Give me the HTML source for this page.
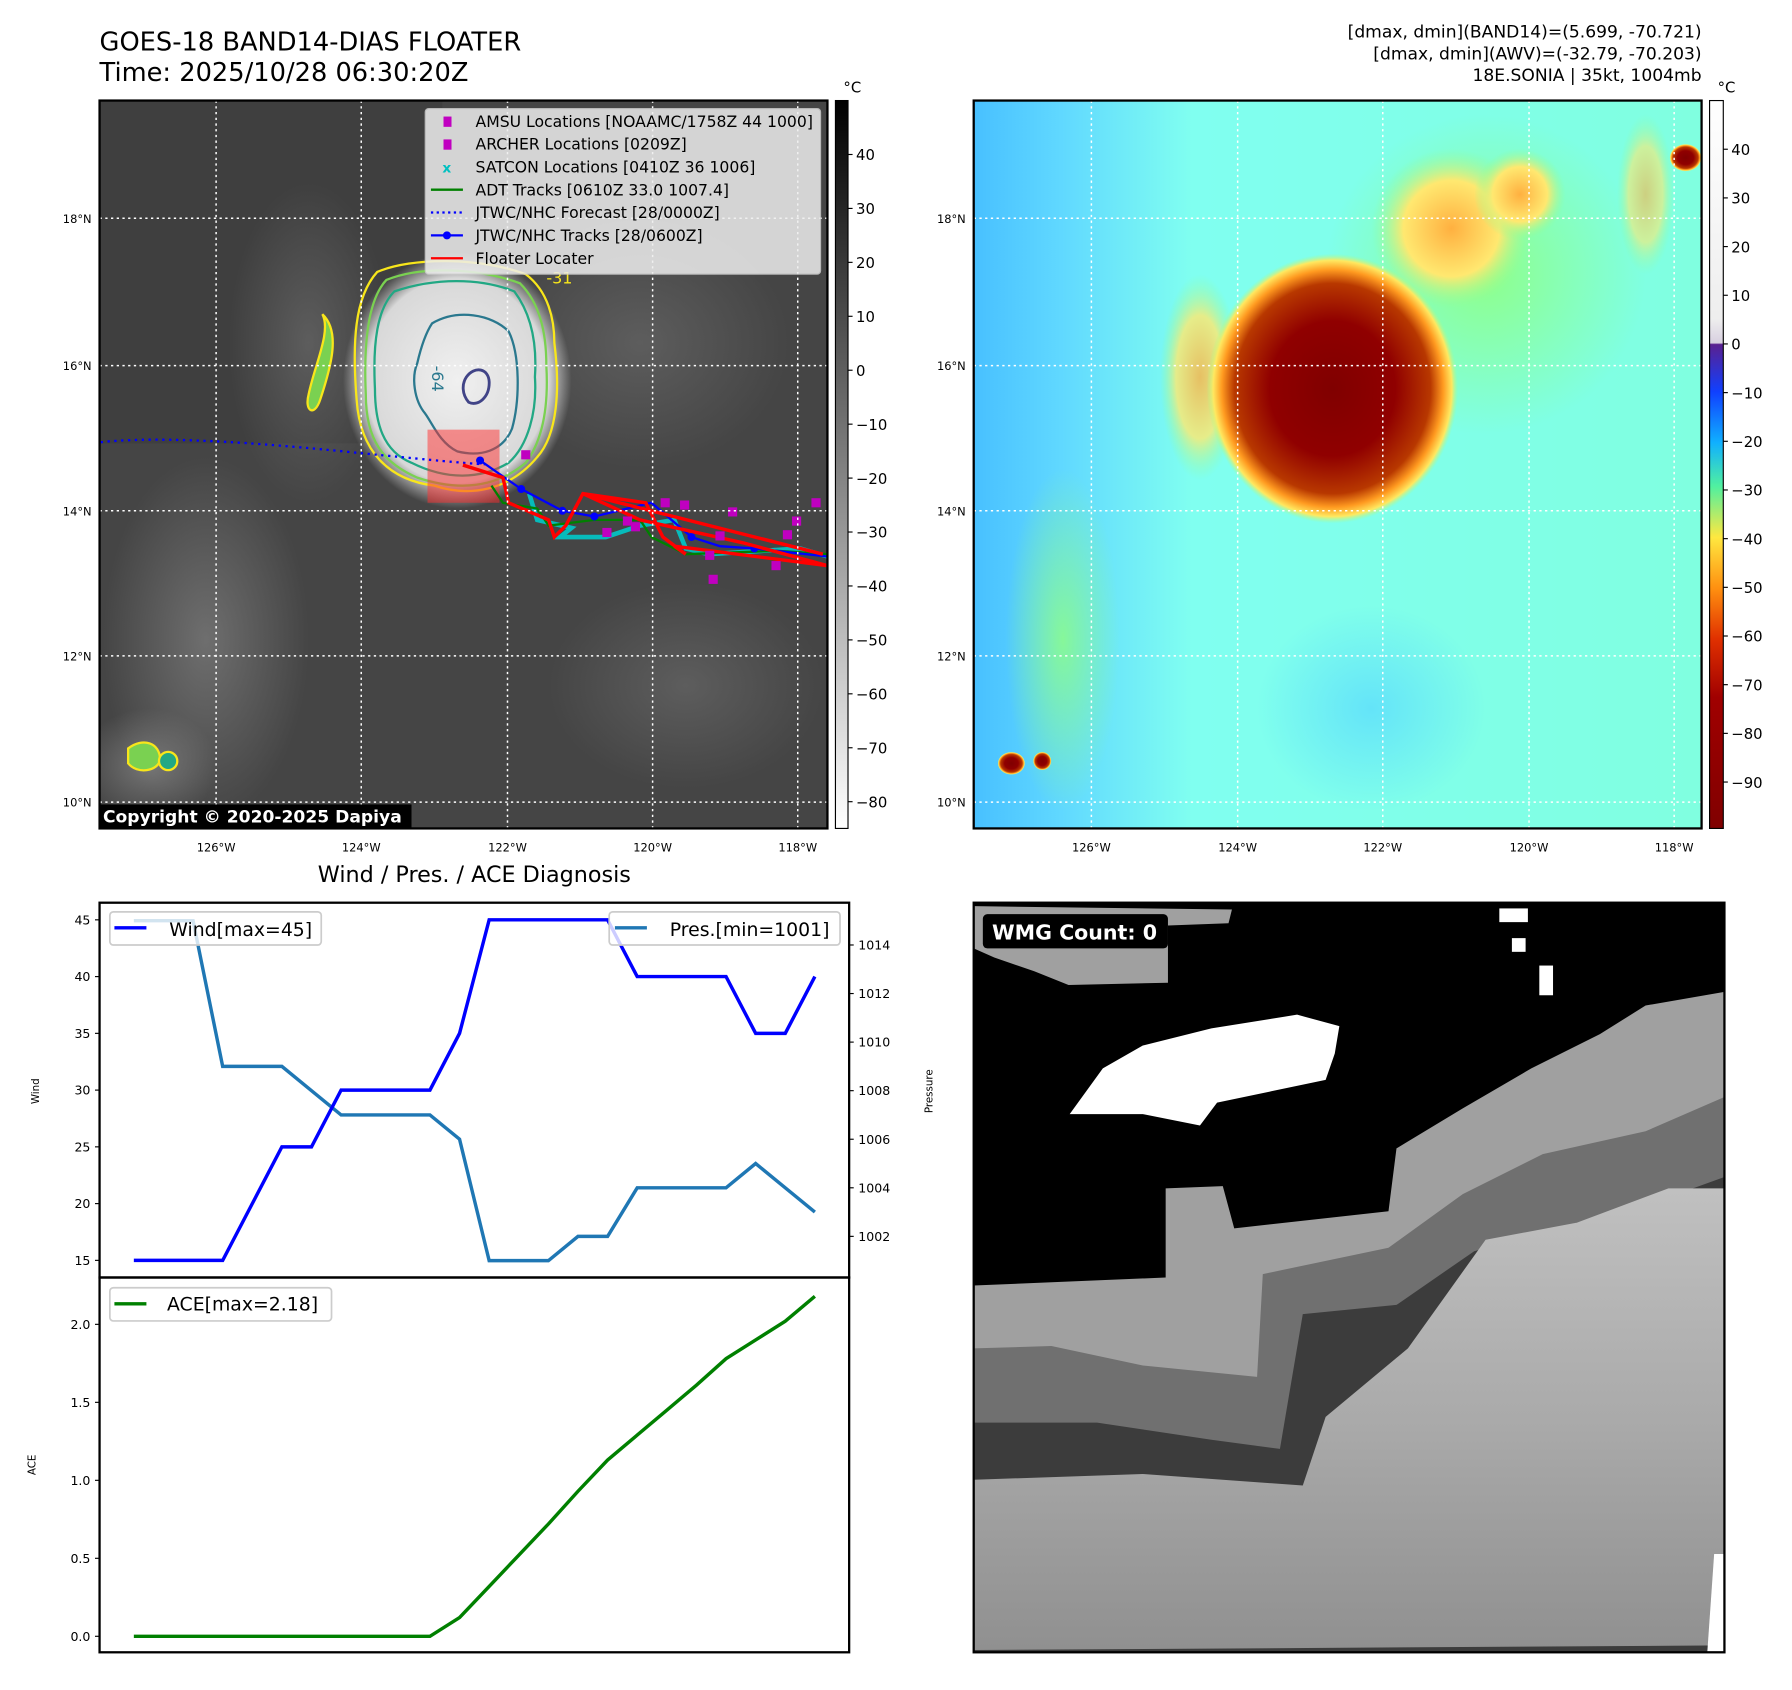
<!DOCTYPE html>
<html><head><meta charset="utf-8">
<style>
html,body{margin:0;padding:0;background:#fff;width:1792px;height:1690px;overflow:hidden}
svg{display:block;font-family:"DejaVu Sans","Liberation Sans",sans-serif}
</style></head>
<body>
<svg id="root" width="1792" height="1690" viewBox="0 0 1568 1479" xmlns="http://www.w3.org/2000/svg">
<defs>
<linearGradient id="cb1" x1="0" y1="0" x2="0" y2="1"><stop offset="0" stop-color="#000"/><stop offset="1" stop-color="#fff"/></linearGradient>
<linearGradient id="cb2" x1="0" y1="0" x2="0" y2="1">
<stop offset="0" stop-color="#ffffff"/><stop offset="0.3" stop-color="#eeeeee"/><stop offset="0.333" stop-color="#d8d0e0"/>
<stop offset="0.335" stop-color="#5a2090"/><stop offset="0.4" stop-color="#1040ff"/><stop offset="0.47" stop-color="#10b0ff"/>
<stop offset="0.53" stop-color="#50f0a0"/><stop offset="0.6" stop-color="#ffe840"/><stop offset="0.67" stop-color="#ff9010"/>
<stop offset="0.74" stop-color="#e03000"/><stop offset="0.82" stop-color="#a00000"/><stop offset="1" stop-color="#800000"/></linearGradient>
<radialGradient id="storm1" cx="0.5" cy="0.5" r="0.5"><stop offset="0" stop-color="#f0f0f0"/><stop offset="0.8" stop-color="#d8d8d8"/><stop offset="1" stop-color="#c8c8c8" stop-opacity="0"/></radialGradient>
<radialGradient id="cloud" cx="0.5" cy="0.5" r="0.5"><stop offset="0" stop-color="#8a8a8a"/><stop offset="1" stop-color="#8a8a8a" stop-opacity="0"/></radialGradient>
<radialGradient id="storm2" cx="0.5" cy="0.5" r="0.5"><stop offset="0" stop-color="#800000"/><stop offset="0.5" stop-color="#900000"/><stop offset="0.78" stop-color="#b83800"/><stop offset="0.88" stop-color="#ff9a20"/><stop offset="0.95" stop-color="#ffe860"/><stop offset="1" stop-color="#a0ff90" stop-opacity="0"/></radialGradient>
<radialGradient id="warm2" cx="0.5" cy="0.5" r="0.5"><stop offset="0" stop-color="#ffb040"/><stop offset="0.6" stop-color="#ffe870"/><stop offset="1" stop-color="#90ff90" stop-opacity="0"/></radialGradient>
<radialGradient id="green2" cx="0.5" cy="0.5" r="0.5"><stop offset="0" stop-color="#90ff80"/><stop offset="1" stop-color="#90ff80" stop-opacity="0"/></radialGradient>
<radialGradient id="blue2" cx="0.5" cy="0.5" r="0.5"><stop offset="0" stop-color="#58d8ff"/><stop offset="1" stop-color="#58d8ff" stop-opacity="0"/></radialGradient>
<linearGradient id="bg2" x1="0" y1="0" x2="1" y2="0"><stop offset="0" stop-color="#48c0ff"/><stop offset="0.12" stop-color="#60d8ff"/><stop offset="0.3" stop-color="#80fff0"/><stop offset="1" stop-color="#80ffe0"/></linearGradient>
<linearGradient id="wmgl" x1="0" y1="0" x2="0" y2="1"><stop offset="0" stop-color="#c0c0c0"/><stop offset="0.5" stop-color="#aaaaaa"/><stop offset="1" stop-color="#909090"/></linearGradient>
<clipPath id="c1"><rect x="87" y="88" width="637" height="637"/></clipPath>
<clipPath id="c2"><rect x="852" y="88" width="637" height="637"/></clipPath>
</defs>

<!-- Titles -->
<text x="87" y="44" font-size="22.5">GOES-18 BAND14-DIAS FLOATER</text>
<text x="87" y="71" font-size="22.5">Time: 2025/10/28 06:30:20Z</text>
<g font-size="15" text-anchor="end">
<text x="1489" y="33">[dmax, dmin](BAND14)=(5.699, -70.721)</text>
<text x="1489" y="52">[dmax, dmin](AWV)=(-32.79, -70.203)</text>
<text x="1489" y="71">18E.SONIA | 35kt, 1004mb</text>
</g>

<!-- MAP 1 -->
<g clip-path="url(#c1)">
<rect x="87" y="88" width="637" height="637" fill="#454545"/>
<rect x="87" y="88" width="300" height="300" fill="#3c3c3c" opacity="0.6"/>
<ellipse cx="180" cy="560" rx="90" ry="160" fill="url(#cloud)" opacity="0.6"/>
<ellipse cx="270" cy="300" rx="70" ry="140" fill="url(#cloud)" opacity="0.4"/>
<ellipse cx="600" cy="600" rx="120" ry="90" fill="url(#cloud)" opacity="0.35"/>
<ellipse cx="130" cy="670" rx="60" ry="50" fill="url(#cloud)" opacity="0.7"/>
<ellipse cx="560" cy="300" rx="130" ry="110" fill="url(#cloud)" opacity="0.35"/>
<ellipse cx="400" cy="333" rx="100" ry="112" fill="url(#storm1)"/>
<path d="M330,238 C360,225 420,225 460,240 C480,255 485,280 485,300 C490,340 488,380 470,400 C445,430 410,435 380,425 C340,420 315,395 312,350 C308,300 310,260 330,238Z" fill="none" stroke="#f8e61b" stroke-width="2"/>
<path d="M338,245 C370,232 420,235 455,248 C472,265 478,290 478,320 C480,355 475,385 460,405 C430,430 395,428 365,418 C335,405 320,385 320,345 C318,300 322,262 338,245Z" fill="none" stroke="#7ad151" stroke-width="2"/>
<path d="M345,255 C380,243 420,243 450,255 C465,275 470,300 468,330 C470,360 462,390 445,405 C420,420 390,420 360,405 C335,395 328,370 328,340 C326,300 330,270 345,255Z" fill="none" stroke="#22a884" stroke-width="2"/>
<path d="M378,283 C400,270 430,275 445,290 C455,310 455,350 448,375 C440,395 420,400 400,395 C385,388 378,370 372,362 C362,350 360,330 365,318 C368,305 372,292 378,283Z" fill="none" stroke="#2a788e" stroke-width="2"/>
<path d="M408,330 C415,320 428,322 428,335 C428,348 418,356 410,352 C404,345 404,336 408,330Z" fill="none" stroke="#414487" stroke-width="2.5"/>
<text x="378" y="320" font-size="14" fill="#2a788e" transform="rotate(90 378 320)">-64</text>
<text x="478" y="248" font-size="14" fill="#f8e61b">-31</text>
<path d="M282,275 C290,290 275,320 270,345 C266,360 275,365 280,350 C290,320 298,290 282,275Z" fill="#7ad151" stroke="#f8e61b" stroke-width="2"/>
<path d="M112,655 C125,645 140,650 140,665 C138,675 120,678 112,668Z" fill="#7ad151" stroke="#f8e61b" stroke-width="2"/>
<ellipse cx="147" cy="666" rx="8" ry="8" fill="#22a884" stroke="#f8e61b" stroke-width="2"/>
<rect x="374" y="376" width="63" height="64" fill="#ff3030" opacity="0.5"/>
<path d="M88,387 Q150,380 300,395 T420,405" fill="none" stroke="#0000ff" stroke-width="2" stroke-dasharray="2,4"/>
<polyline points="463,432 470,455 500,462 490,470 530,470 560,460 590,455 600,480 620,485 700,480 724,487" fill="none" stroke="#00c8c8" stroke-width="4" opacity="0.9"/>
<polyline points="430,425 440,440 470,445 480,460 520,455 560,455 570,470 600,485 680,482 724,485" fill="none" stroke="#008000" stroke-width="2"/>
<polyline points="420,403 456,428 492,447 520,452 570,440 605,470 630,478 660,480 724,487" fill="none" stroke="#0000ff" stroke-width="2"/>
<g fill="#0000ff"><circle cx="420" cy="403" r="3.5"/><circle cx="456" cy="428" r="3.5"/><circle cx="492" cy="447" r="3.5"/><circle cx="520" cy="452" r="3.5"/><circle cx="605" cy="470" r="3.5"/><circle cx="660" cy="480" r="3.5"/></g>
<polyline points="405,407 440,418 445,440 480,455 485,470 495,460 510,432 565,440 580,470 600,485 590,478 724,495 650,475 560,455 510,432 720,485" fill="none" stroke="#ff0000" stroke-width="3"/>
<g fill="#c000c0"><rect x="456" y="394" width="8" height="8"/><rect x="527" y="462" width="8" height="8"/><rect x="545" y="452" width="8" height="8"/><rect x="552" y="457" width="8" height="8"/><rect x="595" y="438" width="8" height="8"/><rect x="617" y="482" width="8" height="8"/><rect x="626" y="465" width="8" height="8"/><rect x="637" y="444" width="8" height="8"/><rect x="620" y="503" width="8" height="8"/><rect x="675" y="491" width="8" height="8"/><rect x="685" y="464" width="8" height="8"/><rect x="693" y="452" width="8" height="8"/><rect x="710" y="436" width="8" height="8"/><rect x="578" y="436" width="8" height="8"/></g>
<g stroke="#fff" stroke-width="1.3" stroke-dasharray="2,3">
<line x1="189" y1="88" x2="189" y2="725"/><line x1="316" y1="88" x2="316" y2="725"/><line x1="444" y1="88" x2="444" y2="725"/><line x1="571" y1="88" x2="571" y2="725"/><line x1="698" y1="88" x2="698" y2="725"/>
<line x1="87" y1="191" x2="724" y2="191"/><line x1="87" y1="320" x2="724" y2="320"/><line x1="87" y1="447" x2="724" y2="447"/><line x1="87" y1="574" x2="724" y2="574"/><line x1="87" y1="702" x2="724" y2="702"/>
</g>
<rect x="87" y="704" width="273" height="21" fill="#000"/>
<text x="90" y="720" font-size="15" font-weight="bold" fill="#fff">Copyright © 2020-2025 Dapiya</text>
</g>
<rect x="87" y="88" width="637" height="637" fill="none" stroke="#000" stroke-width="2"/>
<!-- map1 legend -->
<g>
<rect x="372" y="95" width="346" height="145" rx="3" fill="#eeeeee" opacity="0.85" stroke="#ccc"/>
<g font-size="13.7">
<rect x="388" y="102" width="7" height="9" fill="#c000c0"/><text x="416" y="111">AMSU Locations [NOAAMC/1758Z 44 1000]</text>
<rect x="388" y="122" width="7" height="9" fill="#c000c0"/><text x="416" y="131">ARCHER Locations [0209Z]</text>
<text x="387" y="151" fill="#00c0c0" font-weight="bold" font-size="12">x</text><text x="416" y="151">SATCON Locations [0410Z 36 1006]</text>
<line x1="377" y1="166" x2="405" y2="166" stroke="#008000" stroke-width="2"/><text x="416" y="171">ADT Tracks [0610Z 33.0 1007.4]</text>
<line x1="377" y1="186" x2="405" y2="186" stroke="#0000ff" stroke-width="2" stroke-dasharray="2,3"/><text x="416" y="191">JTWC/NHC Forecast [28/0000Z]</text>
<line x1="377" y1="206" x2="405" y2="206" stroke="#0000ff" stroke-width="2"/><circle cx="391" cy="206" r="3.5" fill="#0000ff"/><text x="416" y="211">JTWC/NHC Tracks [28/0600Z]</text>
<line x1="377" y1="226" x2="405" y2="226" stroke="#ff0000" stroke-width="2"/><text x="416" y="231">Floater Locater</text>
</g></g>
<g font-size="10">
<g text-anchor="end"><text x="80" y="195">18°N</text><text x="80" y="324">16°N</text><text x="80" y="451">14°N</text><text x="80" y="578">12°N</text><text x="80" y="706">10°N</text></g>
<g text-anchor="middle"><text x="189" y="745">126°W</text><text x="316" y="745">124°W</text><text x="444" y="745">122°W</text><text x="571" y="745">120°W</text><text x="698" y="745">118°W</text></g>
</g>
<!-- colorbar1 -->
<g>
<rect x="731" y="88" width="11" height="637" fill="url(#cb1)" stroke="#000" stroke-width="1"/>
<text x="738" y="81" font-size="13">°C</text>
<g font-size="13" id="cb1ticks"></g>
</g>

<!-- MAP 2 -->
<g clip-path="url(#c2)">
<rect x="852" y="88" width="637" height="637" fill="url(#bg2)"/>
<ellipse cx="1200" cy="620" rx="100" ry="90" fill="url(#blue2)" opacity="0.7"/>
<ellipse cx="930" cy="560" rx="50" ry="150" fill="url(#green2)" opacity="0.8"/>
<ellipse cx="1300" cy="240" rx="140" ry="140" fill="url(#green2)" opacity="0.9"/>
<ellipse cx="1270" cy="200" rx="70" ry="70" fill="url(#warm2)"/>
<ellipse cx="1330" cy="170" rx="40" ry="40" fill="url(#warm2)"/>
<ellipse cx="1440" cy="170" rx="25" ry="70" fill="url(#warm2)" opacity="0.6"/>
<ellipse cx="1050" cy="330" rx="35" ry="90" fill="url(#warm2)" opacity="0.8"/>
<ellipse cx="1166" cy="340" rx="110" ry="118" fill="url(#storm2)"/>
<ellipse cx="1475" cy="138" rx="14" ry="12" fill="url(#storm2)"/>
<ellipse cx="885" cy="668" rx="12" ry="10" fill="url(#storm2)"/>
<ellipse cx="912" cy="666" rx="8" ry="8" fill="url(#storm2)"/>
<g stroke="#fff" stroke-width="1.3" stroke-dasharray="2,3">
<line x1="955" y1="88" x2="955" y2="725"/><line x1="1083" y1="88" x2="1083" y2="725"/><line x1="1210" y1="88" x2="1210" y2="725"/><line x1="1338" y1="88" x2="1338" y2="725"/><line x1="1465" y1="88" x2="1465" y2="725"/>
<line x1="852" y1="191" x2="1489" y2="191"/><line x1="852" y1="320" x2="1489" y2="320"/><line x1="852" y1="447" x2="1489" y2="447"/><line x1="852" y1="574" x2="1489" y2="574"/><line x1="852" y1="702" x2="1489" y2="702"/>
</g></g>
<rect x="852" y="88" width="637" height="637" fill="none" stroke="#000" stroke-width="2"/>
<g font-size="10">
<g text-anchor="end"><text x="845" y="195">18°N</text><text x="845" y="324">16°N</text><text x="845" y="451">14°N</text><text x="845" y="578">12°N</text><text x="845" y="706">10°N</text></g>
<g text-anchor="middle"><text x="955" y="745">126°W</text><text x="1083" y="745">124°W</text><text x="1210" y="745">122°W</text><text x="1338" y="745">120°W</text><text x="1465" y="745">118°W</text></g>
</g>
<g>
<rect x="1496" y="88" width="12" height="637" fill="url(#cb2)" stroke="#000" stroke-width="1"/>
<text x="1503" y="81" font-size="13">°C</text>
<g font-size="13" id="cb2ticks"></g>
</g>

<!-- WMG panel -->
<g>
<rect x="852" y="790" width="657" height="656" fill="#000"/>
<polygon points="852,793 1078,796 1075,808 1022,810 1022,860 935,862 905,850 870,838 852,830" fill="#a0a0a0"/>
<polygon points="936,975 965,935 1000,915 1060,900 1135,888 1172,898 1168,922 1160,945 1065,965 1050,985 1000,975" fill="#fff"/>
<rect x="1312" y="795" width="25" height="12" fill="#fff"/><rect x="1323" y="821" width="12" height="12" fill="#fff"/><rect x="1347" y="845" width="12" height="26" fill="#fff"/>
<polygon points="852,1125 1020,1118 1020,1040 1070,1038 1080,1075 1215,1060 1222,1005 1280,970 1340,935 1400,905 1440,880 1509,868 1509,1446 852,1446" fill="#a0a0a0"/>
<polygon points="852,1180 920,1178 1000,1195 1100,1205 1105,1115 1215,1092 1280,1045 1350,1010 1440,990 1509,960 1509,1446 852,1446" fill="#707070"/>
<polygon points="852,1245 960,1245 1060,1260 1120,1268 1140,1150 1222,1142 1290,1095 1360,1075 1440,1055 1509,1030 1509,1446 852,1446" fill="#3c3c3c"/>
<polygon points="852,1295 1000,1290 1140,1300 1160,1240 1232,1180 1300,1085 1380,1070 1460,1040 1509,1040 1509,1440 852,1444" fill="url(#wmgl)"/>
<polygon points="1500,1360 1509,1360 1509,1446 1494,1446" fill="#fff"/>
<rect x="852" y="790" width="657" height="656" fill="none" stroke="#000" stroke-width="2"/>
<rect x="860" y="800" width="162" height="30" rx="4" fill="#000"/>
<text x="868" y="822" font-size="18" font-weight="bold" fill="#fff">WMG Count: 0</text>
</g>

<!-- Charts -->
<text x="415" y="772" font-size="19.5" text-anchor="middle">Wind / Pres. / ACE Diagnosis</text>
<g id="windchart"></g>
<g id="acechart"></g>
</svg>
<script>
const windValues=[15,15,15,15,20,25,25,30,30,30,30,35,45,45,45,45,45,40,40,40,40,35,35,40];
const presValues=[1015,1015,1015,1009,1009,1009,1008,1007,1007,1007,1007,1006,1001,1001,1001,1002,1002,1004,1004,1004,1004,1005,1004,1003];
const aceValues=[0,0,0,0,0,0,0,0,0,0,0,0.12,0.32,0.52,0.72,0.93,1.13,1.29,1.45,1.61,1.78,1.9,2.02,2.18];
const windTicks=[15,20,25,30,35,40,45];
const presTicks=[1002,1004,1006,1008,1010,1012,1014];
const aceTicks=[0.0,0.5,1.0,1.5,2.0];
const cb1Ticks=[40,30,20,10,0,-10,-20,-30,-40,-50,-60,-70,-80];
const cb2Ticks=[40,30,20,10,0,-10,-20,-30,-40,-50,-60,-70,-80,-90];
const NS='http://www.w3.org/2000/svg';
function mk(tag,attrs,parent){const e=document.createElementNS(NS,tag);for(const k in attrs)e.setAttribute(k,attrs[k]);parent.appendChild(e);return e;}
const X0=117,X1=713,L=87,R=743;
const xS=i=>X0+i*(X1-X0)/(windValues.length-1);
const yW=v=>805+(45-v)*(1103-805)/30;
const yP=v=>827+(1014-v)*21.25;
const yA=v=>1432-v*136.5;
const g1=document.getElementById('cb1ticks');
cb1Ticks.forEach(t=>{const y=324-t*4.72;mk('line',{x1:742,x2:746,y1:y,y2:y,stroke:'#000'},g1);const tx=mk('text',{x:749,y:y+5},g1);tx.textContent=(t<0?'\u2212'+(-t):t);});
const g2=document.getElementById('cb2ticks');
cb2Ticks.forEach(t=>{const y=301-t*4.26;mk('line',{x1:1508,x2:1512,y1:y,y2:y,stroke:'#000'},g2);const tx=mk('text',{x:1515,y:y+5},g2);tx.textContent=(t<0?'\u2212'+(-t):t);});
const wc=document.getElementById('windchart');
mk('rect',{x:L,y:790,width:R-L,height:328,fill:'#fff',stroke:'none'},wc);
windTicks.forEach(t=>{const y=yW(t);mk('line',{x1:L-4,x2:L,y1:y,y2:y,stroke:'#000'},wc);const tx=mk('text',{x:L-8,y:y+4,'font-size':11,'text-anchor':'end'},wc);tx.textContent=t;});
presTicks.forEach(t=>{const y=yP(t);mk('line',{x1:R,x2:R+4,y1:y,y2:y,stroke:'#000'},wc);const tx=mk('text',{x:R+8,y:y+4,'font-size':11},wc);tx.textContent=t;});
const pp=mk('polyline',{points:presValues.map((v,i)=>xS(i)+','+yP(v)).join(' '),fill:'none',stroke:'#1f77b4','stroke-width':3},wc);


const wp=mk('polyline',{points:windValues.map((v,i)=>xS(i)+','+yW(v)).join(' '),fill:'none',stroke:'#0000ff','stroke-width':3},wc);


mk('rect',{x:L,y:790,width:R-L,height:328,fill:'none',stroke:'#000','stroke-width':2},wc);
const wl=mk('g',{},wc);


mk('rect',{x:96,y:798,width:185,height:29,rx:3,fill:'#fff','fill-opacity':0.8,stroke:'#ccc','stroke-width':1.5},wl);
mk('line',{x1:100,x2:128,y1:812,y2:812,stroke:'#0000ff','stroke-width':3},wl);
mk('text',{x:148,y:819,'font-size':16.5},wl).textContent='Wind[max=45]';
const pl=mk('g',{},wc);


mk('rect',{x:533,y:798,width:202,height:29,rx:3,fill:'#fff','fill-opacity':0.8,stroke:'#ccc','stroke-width':1.5},pl);
mk('line',{x1:538,x2:566,y1:812,y2:812,stroke:'#1f77b4','stroke-width':3},pl);
mk('text',{x:586,y:819,'font-size':16.5},pl).textContent='Pres.[min=1001]';
const wy=mk('text',{x:34,y:955,'font-size':9,'text-anchor':'middle',transform:'rotate(-90 34 955)'},wc);wy.textContent='Wind';


const py=mk('text',{x:816,y:955,'font-size':9,'text-anchor':'middle',transform:'rotate(-90 816 955)'},wc);py.textContent='Pressure';


const ac=document.getElementById('acechart');
aceTicks.forEach(t=>{const y=yA(t);mk('line',{x1:L-4,x2:L,y1:y,y2:y,stroke:'#000'},ac);const tx=mk('text',{x:L-8,y:y+4,'font-size':11,'text-anchor':'end'},ac);tx.textContent=t.toFixed(1);});
const ap=mk('polyline',{points:aceValues.map((v,i)=>xS(i)+','+yA(v)).join(' '),fill:'none',stroke:'#008000','stroke-width':3},ac);


mk('rect',{x:L,y:1118,width:R-L,height:328,fill:'none',stroke:'#000','stroke-width':2},ac);
const al=mk('g',{},ac);


mk('rect',{x:96,y:1127,width:194,height:29,rx:3,fill:'#fff','fill-opacity':0.8,stroke:'#ccc','stroke-width':1.5},al);
mk('line',{x1:100,x2:128,y1:1141,y2:1141,stroke:'#008000','stroke-width':3},al);
mk('text',{x:146,y:1147,'font-size':16.5},al).textContent='ACE[max=2.18]';
const ay=mk('text',{x:31,y:1282,'font-size':9,'text-anchor':'middle',transform:'rotate(-90 31 1282)'},ac);ay.textContent='ACE';


</script>
</body></html>
